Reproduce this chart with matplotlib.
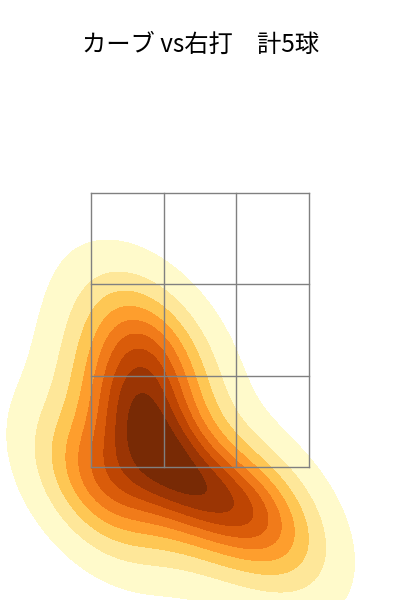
import matplotlib
matplotlib.use("Agg")
import matplotlib.pyplot as plt
import seaborn as sns
import numpy as np

# pitch locations (feet): horizontal / vertical
plate_x = [-0.382, -0.511, -0.763, -0.092, 0.472]
plate_z = [2.390, 1.915, 1.366, 1.330, 1.147]

title = "カーブ vs右打\u3000計5球"

# strike zone grid (feet)
zone_x = [-0.83, -0.277, 0.277, 0.83]
zone_z = [1.5, 2.167, 2.833, 3.5]

plt.rcParams['font.family'] = ['Noto Sans CJK JP', 'DejaVu Sans']

fig = plt.figure(figsize=(4, 6), dpi=100)
ax = fig.add_axes([0, 0, 1, 1])
sns.kdeplot(x=plate_x, y=plate_z, fill=True, cmap='YlOrBr', ax=ax)

for xv in zone_x:
    ax.plot([xv, xv], [zone_z[0], zone_z[-1]], color='gray', lw=1.0, zorder=5)
for zv in zone_z:
    ax.plot([zone_x[0], zone_x[-1]], [zv, zv], color='gray', lw=1.0, zorder=5)

ax.set_xlim(-1.525, 1.525)
ax.set_ylim(0.525, 4.914)
ax.axis('off')
fig.text(0.5, 1 - 45 / 600, title, ha='center', va='center', fontsize=17.5)

fig.savefig('out.png', dpi=100)
